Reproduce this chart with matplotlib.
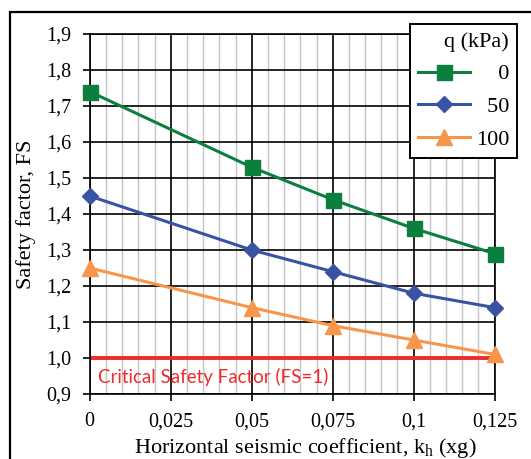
import matplotlib
matplotlib.use("Agg")
import matplotlib.pyplot as plt
from matplotlib.patches import Rectangle
import numpy as np

kh = [0, 0.05, 0.075, 0.1, 0.125]
fs_q0 = [1.74, 1.53, 1.44, 1.36, 1.29]
fs_q50 = [1.45, 1.30, 1.24, 1.18, 1.14]
fs_q100 = [1.25, 1.14, 1.09, 1.05, 1.01]
series_labels = ["\u2007\u20070", "\u200750", "100"]
legend_title = "q (kPa)"
x_ticks = [0, 0.025, 0.05, 0.075, 0.1, 0.125]
x_ticklabels = ["0", "0,025", "0,05", "0,075", "0,1", "0,125"]
y_ticks = [0.9, 1.0, 1.1, 1.2, 1.3, 1.4, 1.5, 1.6, 1.7, 1.8, 1.9]
y_ticklabels = ["0,9", "1,0", "1,1", "1,2", "1,3", "1,4", "1,5", "1,6", "1,7", "1,8", "1,9"]
critical_fs = 1.0
critical_label = "Critical Safety Factor (FS=1)"

plt.rcParams['font.family'] = ['Liberation Serif', 'DejaVu Serif']
plt.rcParams['mathtext.fontset'] = 'custom'
plt.rcParams['mathtext.rm'] = 'Liberation Serif'
plt.rcParams['mathtext.it'] = 'Liberation Serif:italic'

fig = plt.figure(figsize=(5.31, 4.59), dpi=100)
ax = fig.add_axes([0.169, 0.1416, 0.7626, 0.7843])

# outer frame
fig.patches.append(Rectangle((0.019, -0.05), 1.2, 0.05 + 0.974, transform=fig.transFigure,
                             fill=False, edgecolor='black', linewidth=1.6))

ax.set_xlim(0, 0.125)
ax.set_ylim(0.9, 1.9)
ax.set_xticks(x_ticks)
ax.set_xticklabels(x_ticklabels)
ax.set_yticks(y_ticks)
ax.set_yticklabels(y_ticklabels)
ax.set_xticks(np.arange(0, 0.1251, 0.005), minor=True)
ax.tick_params(axis='both', which='major', direction='out', length=5, width=1.2, labelsize=14.5, colors='black')
ax.tick_params(axis='x', which='major', pad=8)
ax.tick_params(axis='y', which='major', pad=8)
ax.tick_params(axis='x', which='minor', length=0)
ax.grid(True, which='minor', axis='x', color='#C4C4C4', linewidth=1.0, zorder=0)
ax.grid(True, which='major', axis='both', color='black', linewidth=1.2, zorder=0.5)
for s in ax.spines.values():
    s.set_linewidth(1.2)
ax.set_axisbelow(True)

ax.plot(kh, fs_q0, color='#0B7F3E', marker='s', markersize=10.8, linewidth=2.2,
        label=series_labels[0], zorder=3, clip_on=False)
ax.plot(kh, fs_q50, color='#3953A4', marker='D', markersize=7.8, linewidth=2.2,
        label=series_labels[1], zorder=3, clip_on=False)
ax.plot(kh, fs_q100, color='#F7964A', marker='^', markersize=11, linewidth=2.2,
        label=series_labels[2], zorder=3, clip_on=False)

ax.plot([x_ticks[0], x_ticks[-1]], [critical_fs, critical_fs], color='#EE2A2A', linewidth=2.8, zorder=2)
ax.text(0.0026, 0.947, critical_label, color='#EE2A2A', fontsize=13.5,
        family=['Liberation Sans Narrow', 'Lato', 'DejaVu Sans'],
        va='center', ha='left', zorder=4)

ax.set_xlabel(r"Horizontal seismic coefficient, k$_{\mathregular{h}}$ (xg)", fontsize=16)
ax.xaxis.set_label_coords(0.532, -0.117)
ax.set_ylabel("Safety factor, FS", fontsize=16)
ax.yaxis.set_label_coords(-0.133, 0.5)

leg = ax.legend(title=legend_title, loc='upper right', bbox_to_anchor=(0.9736, 0.9477),
                bbox_transform=fig.transFigure, fontsize=16, title_fontsize=16,
                frameon=True, fancybox=False, edgecolor='black', framealpha=1,
                handlelength=2.35, labelspacing=0.55, alignment='right', borderpad=0.35,
                handletextpad=0.25, borderaxespad=0)
leg.get_frame().set_linewidth(1.4)
leg.set_zorder(10)

fig.savefig("out.png", dpi=100)
